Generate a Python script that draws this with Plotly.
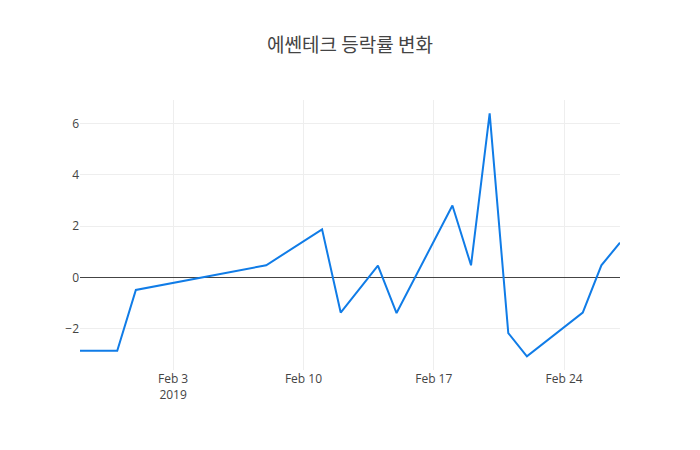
import plotly.graph_objects as go

dates = ["2019-01-29", "2019-01-31", "2019-02-01", "2019-02-08", "2019-02-11",
         "2019-02-12", "2019-02-14", "2019-02-15", "2019-02-18", "2019-02-19",
         "2019-02-20", "2019-02-21", "2019-02-22", "2019-02-25", "2019-02-26",
         "2019-02-27"]
rates = [-2.86, -2.86, -0.49, 0.47, 1.87, -1.37, 0.46, -1.39, 2.80, 0.47,
         6.39, -2.17, -3.08, -1.37, 0.47, 1.35]

fig = go.Figure()
fig.add_trace(go.Scatter(x=dates, y=rates, mode="lines",
                         line=dict(color="rgb(16,124,231)", width=2)))

fig.update_layout(
    width=700, height=450,
    title=dict(text="에쎈테크 등락률 변화", x=0.5, xref="paper", xanchor="center",
               y=0.918, yref="container", yanchor="middle",
               font=dict(family="Noto Sans CJK KR", size=19, color="#444")),
    font=dict(family="Open Sans", size=12, color="#444"),
    plot_bgcolor="white", paper_bgcolor="white",
    margin=dict(l=72, r=88, t=92, b=88),
    showlegend=False,
    xaxis=dict(showgrid=True, gridcolor="#eee", zeroline=False,
               range=["2019-01-29", "2019-02-27"]),
    yaxis=dict(showgrid=True, gridcolor="#eee", zeroline=True,
               zerolinecolor="#444", zerolinewidth=1, range=[-3.61, 6.91],
               dtick=2),
)

fig.write_html("out.html")
